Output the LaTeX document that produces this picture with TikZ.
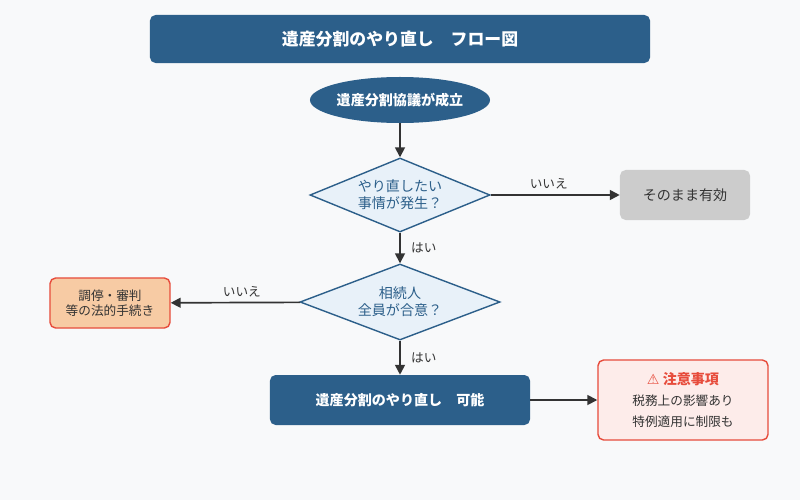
\documentclass[tikz,border=0pt]{standalone}
\usepackage{fontspec}
\setmainfont{Noto Sans CJK JP}
\newfontfamily\symfont{DejaVu Sans}
\usetikzlibrary{shapes.geometric,arrows.meta}
\definecolor{navy}{HTML}{2C5F8A}
\definecolor{paleblue}{HTML}{E8F1F9}
\definecolor{greybox}{HTML}{CCCCCC}
\definecolor{orangefill}{HTML}{F7CBA4}
\definecolor{redline}{HTML}{E74C3C}
\definecolor{pinkfill}{HTML}{FDECEA}
\definecolor{txt}{HTML}{333333}
\definecolor{bg}{HTML}{F8F9FA}
\tikzset{
  box/.style={rectangle,rounded corners=4pt,align=center,font=\normalsize},
  dark/.style={box,fill=navy,text=white,font=\normalsize\bfseries},
  ask/.style={diamond,aspect=2.4,draw=navy,line width=1pt,fill=paleblue,text=navy,align=center,font=\normalsize,inner sep=0pt},
  flow/.style={-{Triangle[length=7pt,width=7pt]},line width=1.2pt,draw=txt},
  lbl/.style={font=\small,text=txt}
}
\begin{document}
\begin{tikzpicture}[x=0.025cm,y=-0.025cm]
\fill[bg] (0,0) rectangle (800,500);
\path
    (400,39) node [dark,minimum width=12.5cm,minimum height=1.2cm,font=\large\bfseries] (title) {遺産分割のやり直し　フロー図}
    (400,100) node [ellipse,fill=navy,text=white,font=\normalsize\bfseries,minimum width=4.5cm,minimum height=1.15cm,inner sep=0pt] (start) {遺産分割協議が成立}
    (400,195) node [ask,minimum width=4.5cm,minimum height=1.85cm] (q1) {やり直したい\\事情が発生？}
    (685,195) node [box,fill=greybox,text=txt,minimum width=3.25cm,minimum height=1.25cm] (valid) {そのまま有効}
    (400,302) node [ask,minimum width=5cm,minimum height=1.9cm] (q2) {相続人\\全員が合意？}
    (110,303) node [box,fill=orangefill,draw=redline,line width=1pt,text=txt,font=\small,minimum width=3cm,minimum height=1.25cm] (court) {調停・審判\\等の法的手続き}
    (400,400) node [dark,minimum width=6.5cm,minimum height=1.25cm] (redo) {遺産分割のやり直し　可能}
    (683,400) node [box,fill=pinkfill,draw=redline,line width=1pt,text=txt,font=\small,minimum width=4.25cm,minimum height=2cm] (note)
      {{\normalsize\bfseries\color{redline}{\symfont ⚠} 注意事項}\\[4pt]税務上の影響あり\\[4pt]特例適用に制限も};
\draw [flow] (start) -- (q1);
\draw [flow] (q1) -- node [lbl,above,pos=0.45] {いいえ} (valid);
\draw [flow] (q1) -- node [lbl,right,xshift=4pt] {はい} (q2);
\draw [flow] (q2) -- node [lbl,above,pos=0.45] {いいえ} (court);
\draw [flow] (q2) -- node [lbl,right,xshift=4pt] {はい} (redo);
\draw [flow] (redo) -- (note);
\end{tikzpicture}
\end{document}
